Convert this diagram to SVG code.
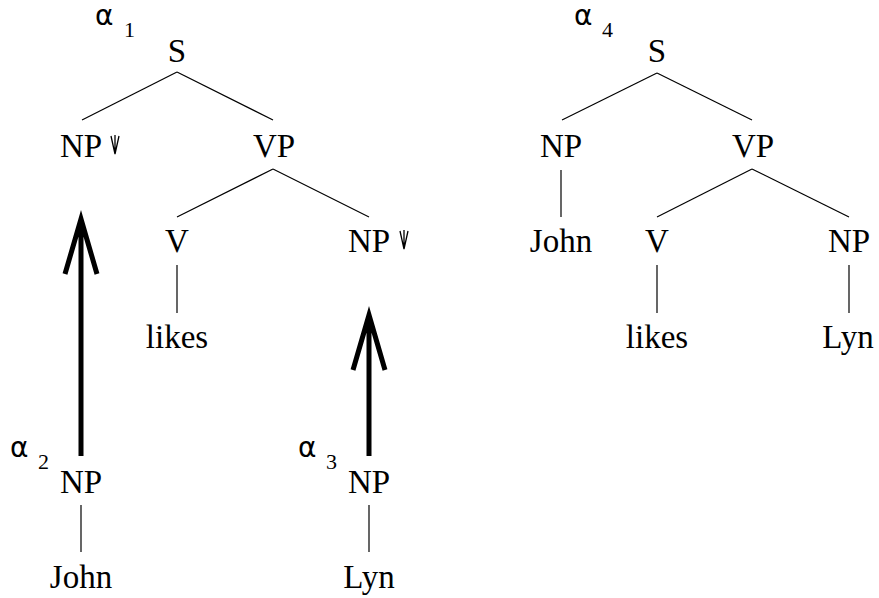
<svg xmlns="http://www.w3.org/2000/svg" width="879" height="598" viewBox="0 0 879 598">
<style>
text{font-family:"Liberation Serif","Times New Roman",serif;fill:#000}
.n{font-size:33px;text-anchor:middle}
.a{font-family:"DejaVu Sans",sans-serif;font-size:28px}
.s{font-size:22px}
.e{stroke:#000;stroke-width:1.2;fill:none}
.d{stroke:#000;stroke-width:1.3;fill:none}
.b{stroke:#000;stroke-width:5;fill:none;stroke-linecap:butt;stroke-linejoin:miter}
</style>
<defs>
<path id="subst" class="d" d="M0 0V19M-4 1L0 19L4 1"/>
</defs>
<rect width="879" height="598" fill="#fff"/>
<g id="connectors">
<line class="e" x1="177" y1="72" x2="82" y2="120"/>
<line class="e" x1="177" y1="72" x2="273" y2="120"/>
<line class="e" x1="273" y1="169" x2="177" y2="217"/>
<line class="e" x1="273" y1="169" x2="369" y2="217"/>
<line class="e" x1="177" y1="265" x2="177" y2="313"/>
<line class="e" x1="81" y1="505" x2="81" y2="552"/>
<line class="e" x1="369" y1="505" x2="369" y2="552"/>
<path class="b" d="M81 456V219M65 274L81 219L97 274"/>
<path class="b" d="M369 456V315M353 370L369 315L385 370"/>
<line class="e" x1="657" y1="73" x2="562" y2="120"/>
<line class="e" x1="657" y1="73" x2="752" y2="120"/>
<line class="e" x1="561" y1="170" x2="561" y2="217"/>
<line class="e" x1="752" y1="169" x2="657" y2="217"/>
<line class="e" x1="752" y1="169" x2="849" y2="217"/>
<line class="e" x1="657" y1="265" x2="657" y2="313"/>
<line class="e" x1="849" y1="265" x2="849" y2="313"/>
</g>
<g id="alpha1"><text class="a" x="95" y="25">α</text><text class="s" x="124" y="37">1</text></g>
<g id="t1-S"><text class="n" x="177" y="62">S</text></g>
<g id="t1-NP"><text class="n" x="81" y="157">NP</text><use href="#subst" x="115" y="135"/></g>
<g id="t1-VP"><text class="n" x="274" y="157">VP</text></g>
<g id="t1-V"><text class="n" x="177" y="252">V</text></g>
<g id="t1-NP2"><text class="n" x="369" y="252">NP</text><use href="#subst" x="404" y="230"/></g>
<g id="t1-likes"><text class="n" x="177" y="348">likes</text></g>
<g id="alpha2"><text class="a" x="10" y="457">α</text><text class="s" x="38" y="469">2</text></g>
<g id="t2-NP"><text class="n" x="81" y="493">NP</text></g>
<g id="t2-John"><text class="n" x="81" y="588">John</text></g>
<g id="alpha3"><text class="a" x="298" y="457">α</text><text class="s" x="326" y="469">3</text></g>
<g id="t3-NP"><text class="n" x="369" y="493">NP</text></g>
<g id="t3-Lyn"><text class="n" x="369" y="588">Lyn</text></g>
<g id="alpha4"><text class="a" x="574" y="25">α</text><text class="s" x="602" y="37">4</text></g>
<g id="t4-S"><text class="n" x="657" y="62">S</text></g>
<g id="t4-NP"><text class="n" x="561" y="157">NP</text></g>
<g id="t4-VP"><text class="n" x="753" y="157">VP</text></g>
<g id="t4-John"><text class="n" x="561" y="252">John</text></g>
<g id="t4-V"><text class="n" x="657" y="252">V</text></g>
<g id="t4-NP2"><text class="n" x="849" y="252">NP</text></g>
<g id="t4-likes"><text class="n" x="657" y="348">likes</text></g>
<g id="t4-Lyn"><text class="n" x="848" y="348">Lyn</text></g>
</svg>
